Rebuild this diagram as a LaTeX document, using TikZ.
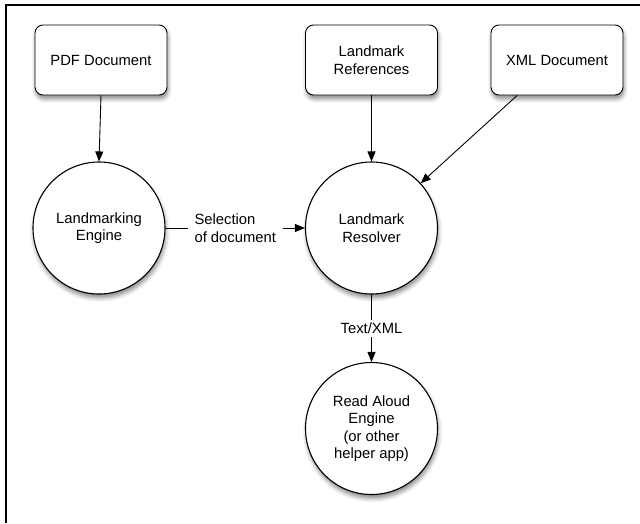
\documentclass[tikz,border=0pt]{standalone}
\usepackage{fontspec}
\setmainfont{Liberation Sans}
\usetikzlibrary{arrows.meta,calc,shadows.blur}
\begin{document}
\begin{tikzpicture}[x=1pt,y=-1pt,
  every node/.style={font=\fontsize{14.8}{17.5}\selectfont, align=center},
  shad/.style={blur shadow={shadow xshift=1pt, shadow yshift=-4pt, shadow blur radius=4pt, shadow opacity=45}},
  docbox/.style={draw, line width=0.9pt, rounded corners=8pt, fill=white, minimum width=132pt, minimum height=70pt, inner sep=0pt, shad},
  proc/.style={draw, circle, line width=1.1pt, fill=white, minimum size=132pt, inner sep=0pt, shad},
  conn/.style={line width=0.9pt, -{Triangle[length=10pt,width=8pt]}},
  lbl/.style={fill=white, inner sep=3pt}]
\useasboundingbox (0,0) rectangle (640,523);
\draw[line width=2.5pt] (6,523) -- (6,5) -- (640,5);
\node[docbox] (pdf) at (101,60) {PDF Document};
\node[docbox] (refs) at (371.5,60) {Landmark\\References};
\node[docbox] (xml) at (557,60) {XML Document};
\node[proc] (le) at (99,228) {Landmarking\\Engine};
\node[proc] (lr) at (371.5,228) {Landmark\\Resolver};
\node[proc] (ra) at (371.5,428.5) {Read Aloud\\Engine\\(or other\\helper app)};
\coordinate (xmlfoot) at ($(xml.south west)!0.2!(xml.south east)$);
\draw[conn] (pdf.south) -- (le.north);
\draw[conn] (refs.south) -- (lr.north);
\draw[conn] (xmlfoot) -- (lr);
\draw[conn] (le.east) -- node[lbl, align=left, inner xsep=7pt] {Selection\\of document} (lr.west);
\draw[conn] (lr.south) -- node[lbl] {Text/XML} (ra.north);
\end{tikzpicture}
\end{document}
